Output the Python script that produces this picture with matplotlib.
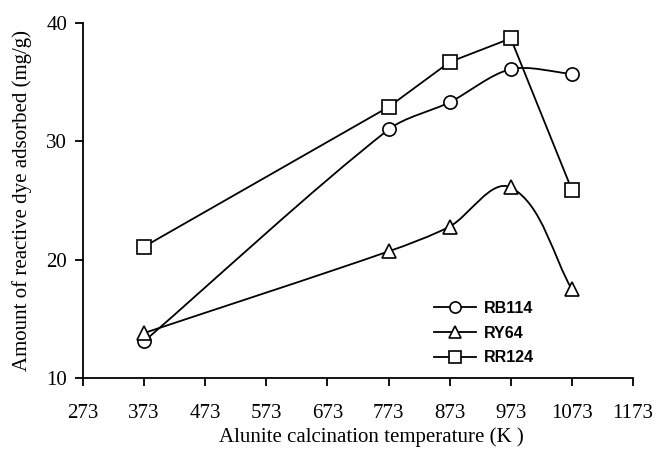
import numpy as np
import matplotlib
matplotlib.use("Agg")
import matplotlib.pyplot as plt
from matplotlib.path import Path
from matplotlib.patches import PathPatch
from matplotlib.lines import Line2D

temps = [373, 773, 873, 973, 1073]
rb114 = [13.1, 31.0, 33.3, 36.1, 35.7]
ry64 = [13.8, 20.7, 22.8, 26.1, 17.5]
rr124 = [21.1, 32.9, 36.7, 38.7, 25.9]
xticks = [273, 373, 473, 573, 673, 773, 873, 973, 1073, 1173]
yticks = [10, 20, 30, 40]


def smooth_path(x, y, sx, sy, t=0.3):
	# smoothed line, tangents worked out in screen-like units
	pts = np.column_stack([np.asarray(x) * sx, np.asarray(y) * sy]).astype(float)
	n = len(pts)
	tang = []
	for i in range(n):
		d = pts[min(i + 1, n - 1)] - pts[max(i - 1, 0)]
		tang.append(d / np.hypot(*d))
	verts = [pts[0]]
	codes = [Path.MOVETO]
	for i in range(n - 1):
		seg = np.hypot(*(pts[i + 1] - pts[i]))
		verts += [pts[i] + tang[i] * seg * t, pts[i + 1] - tang[i + 1] * seg * t, pts[i + 1]]
		codes += [Path.CURVE4] * 3
	verts = np.array(verts) / [sx, sy]
	return Path(verts, codes)


plt.rcParams['font.family'] = ['Liberation Serif', 'DejaVu Serif']
fig = plt.figure(figsize=(6.56, 4.51), dpi=100)
ax = fig.add_axes([83 / 656, 73 / 451, 550 / 656, 355 / 451])

lw = 1.3
ms = 9.5
sx, sy = 550 / 900, 355 / 30
for vals in [rb114, ry64]:
	ax.add_patch(PathPatch(smooth_path(temps, vals, sx, sy), fill=False, lw=lw, color='black', zorder=2))
ax.plot(temps, rr124, color='black', lw=lw, zorder=2)

styles = [("RB114", rb114, 'o'), ("RY64", ry64, '^'), ("RR124", rr124, 's')]
handles = []
for name, vals, m in styles:
	ax.plot(temps, vals, linestyle='none', marker=m, ms=ms, mfc='white', mec='black', mew=1.2, zorder=3)
	handles.append(Line2D([], [], color='black', lw=lw, marker=m, ms=ms * 0.85, mfc='white', mec='black', mew=1.2, label=name))

ax.set_xlim(273, 1173)
ax.set_ylim(10, 40)
ax.set_xticks(xticks)
ax.set_yticks(yticks)
ax.spines['top'].set_visible(False)
ax.spines['right'].set_visible(False)
ax.spines['left'].set_linewidth(1.3)
ax.spines['bottom'].set_linewidth(1.3)
ax.tick_params(direction='out', length=6, width=1.3, labelsize=15)
ax.tick_params(axis='x', pad=13)
ax.tick_params(axis='y', pad=5.5)
ax.set_xlabel("Alunite calcination temperature (K )", fontsize=15, labelpad=3)
ax.xaxis.label.set_x(0.525)
ax.set_ylabel("Amount of reactive dye adsorbed (mg/g)", fontsize=15, labelpad=10)

leg = ax.legend(handles=handles, loc='upper left', bbox_to_anchor=(434 / 656, 1 - 301 / 451),
	bbox_transform=fig.transFigure, frameon=False, handlelength=2.6, handletextpad=0.55,
	labelspacing=0.6, borderpad=0, borderaxespad=0,
	prop={'family': 'Liberation Sans', 'weight': 'bold', 'size': 11.5})

fig.savefig("out.png", dpi=100)
